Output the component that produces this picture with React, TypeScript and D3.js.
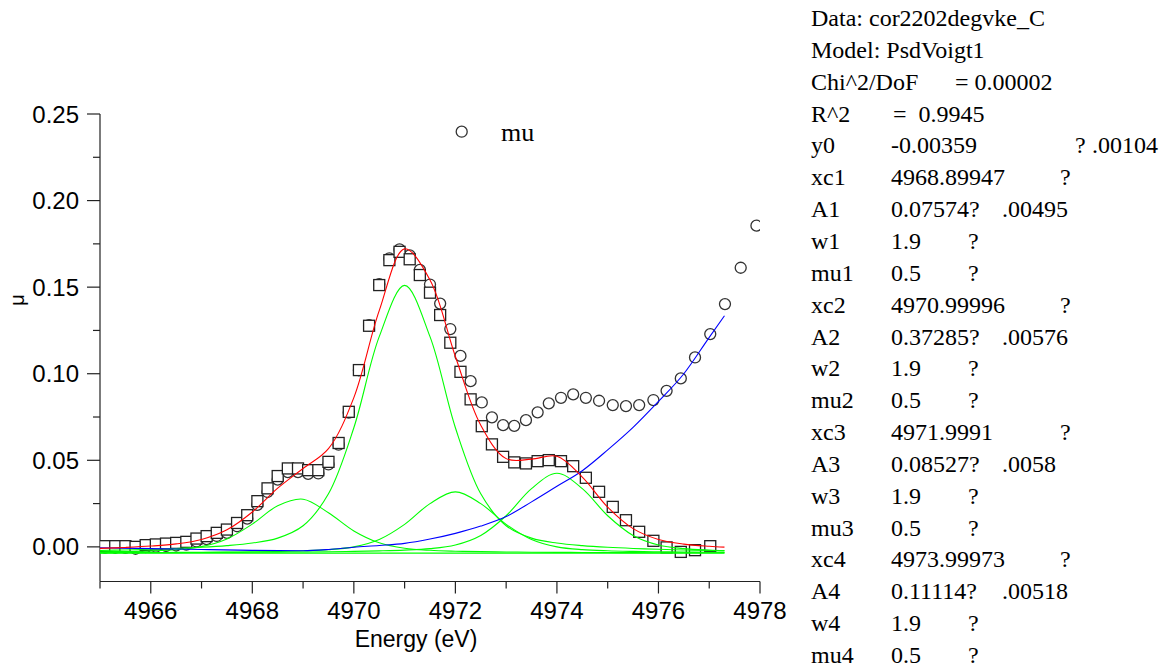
import React from 'react';
import * as d3 from 'd3';

// ---------- data ----------
const fitX = [4965, 4965.5, 4966, 4966.5, 4967, 4967.5, 4968, 4968.5, 4969, 4969.5, 4970, 4970.5, 4971, 4971.5, 4972, 4972.5, 4973, 4973.5, 4974, 4974.5, 4975, 4975.5, 4976, 4976.5, 4977, 4977.3];
const peak1 = [-0.00288, -0.00267, -0.00233, -0.00165, 0.00012, 0.00457, 0.01315, 0.02375, 0.02754, 0.01968, 0.00922, 0.00234, -0.0008, -0.00199, -0.00249, -0.00276, -0.00294, -0.00307, -0.00316, -0.00324, -0.00329, -0.00333, -0.00337, -0.0034, -0.00342, -0.00343];
const peak2 = [-0.00206, -0.00178, -0.00141, -0.00092, -0.00025, 0.00071, 0.0022, 0.00505, 0.01218, 0.03067, 0.06881, 0.1214, 0.15105, 0.1214, 0.06881, 0.03067, 0.01218, 0.00505, 0.0022, 0.00071, -0.00025, -0.00092, -0.00141, -0.00178, -0.00206, -0.0022];
const peak3 = [-0.00333, -0.00329, -0.00324, -0.00318, -0.00309, -0.00298, -0.00283, -0.00261, -0.00227, -0.00161, 0.00002, 0.00425, 0.01297, 0.02499, 0.03178, 0.02499, 0.01297, 0.00425, 0.00002, -0.00161, -0.00227, -0.00261, -0.00283, -0.00298, -0.00309, -0.00315];
const peak4 = [-0.00338, -0.00336, -0.00333, -0.0033, -0.00325, -0.0032, -0.00313, -0.00305, -0.00294, -0.0028, -0.0026, -0.00231, -0.00187, -0.00102, 0.00111, 0.00662, 0.01799, 0.03367, 0.04251, 0.03367, 0.01799, 0.00662, 0.00111, -0.00102, -0.00187, -0.00216];
const fitSum = [-0.00089, -0.00033, 0.00046, 0.00173, 0.00429, 0.00986, 0.02016, 0.03391, 0.04528, 0.05671, 0.08622, 0.13644, 0.17212, 0.15416, 0.10997, 0.07029, 0.05096, 0.05066, 0.05232, 0.04029, 0.02295, 0.01053, 0.00427, 0.0016, 0.00033, -0.00017];
const baseY0 = -0.00359;

const bgX = [4965, 4966, 4967, 4968, 4969, 4969.5, 4970, 4970.5, 4971, 4971.5, 4972, 4972.5, 4973, 4973.5, 4974, 4974.5, 4975, 4975.5, 4976, 4976.5, 4977, 4977.3];
const bgY = [-0.0005, -0.001, -0.0015, -0.002, -0.0022, -0.0015, -0.0002, 0.0008, 0.002, 0.0045, 0.0078, 0.012, 0.0175, 0.026, 0.035, 0.044, 0.056, 0.069, 0.084, 0.1, 0.121, 0.1335];

const sqX = [4965.1, 4965.3, 4965.5, 4965.7, 4965.9, 4966.1, 4966.3, 4966.5, 4966.7, 4966.9, 4967.1, 4967.3, 4967.5, 4967.7, 4967.9, 4968.1, 4968.3, 4968.5, 4968.7, 4968.9, 4969.1, 4969.3, 4969.5, 4969.7, 4969.9, 4970.1, 4970.3, 4970.5, 4970.7, 4970.9, 4971.1, 4971.3, 4971.5, 4971.7, 4971.9, 4972.1, 4972.3, 4972.52, 4972.72, 4972.94, 4973.16, 4973.39, 4973.62, 4973.84, 4974.08, 4974.32, 4974.57, 4974.83, 4975.1, 4975.36, 4975.62, 4975.9, 4976.16, 4976.44, 4976.72, 4977.02];
const sqY = [0.0004, 0.0004, 0.0004, 0.0, 0.001, 0.0014, 0.0019, 0.0023, 0.0029, 0.0048, 0.0062, 0.0081, 0.01, 0.0138, 0.0183, 0.0264, 0.0338, 0.0409, 0.0453, 0.0453, 0.0443, 0.0443, 0.0491, 0.06, 0.078, 0.1021, 0.1277, 0.1512, 0.1656, 0.1704, 0.1661, 0.157, 0.1468, 0.1339, 0.1179, 0.1011, 0.0852, 0.0697, 0.0592, 0.052, 0.0488, 0.0482, 0.0495, 0.0501, 0.0495, 0.0466, 0.0399, 0.0318, 0.0231, 0.0154, 0.0087, 0.0035, -0.0003, -0.0029, -0.0019, 0.0004];

const muX = [4965.1, 4965.3, 4965.5, 4965.7, 4965.9, 4966.1, 4966.3, 4966.5, 4966.7, 4966.9, 4967.1, 4967.3, 4967.5, 4967.7, 4967.9, 4968.1, 4968.3, 4968.5, 4968.7, 4968.9, 4969.1, 4969.3, 4969.5, 4969.7, 4969.9, 4970.1, 4970.3, 4970.5, 4970.7, 4970.9, 4971.1, 4971.3, 4971.5, 4971.7, 4971.9, 4972.1, 4972.3, 4972.52, 4972.72, 4972.94, 4973.16, 4973.39, 4973.62, 4973.84, 4974.08, 4974.32, 4974.57, 4974.83, 4975.1, 4975.36, 4975.62, 4975.9, 4976.16, 4976.44, 4976.72, 4977.02, 4977.31, 4977.62, 4977.93];
const muY = [-0.0004, -0.0005, -0.0006, -0.0011, -0.0002, 0.0001, 0.0005, 0.0008, 0.0013, 0.0031, 0.0045, 0.0063, 0.0081, 0.0119, 0.0163, 0.0243, 0.0317, 0.0388, 0.0432, 0.0432, 0.0422, 0.0424, 0.0476, 0.059, 0.0775, 0.102, 0.128, 0.1518, 0.1666, 0.1718, 0.1683, 0.16, 0.1515, 0.1405, 0.1258, 0.1103, 0.0957, 0.0834, 0.0748, 0.0703, 0.0699, 0.0732, 0.0777, 0.0829, 0.0861, 0.0881, 0.0861, 0.0844, 0.0819, 0.0813, 0.0819, 0.0848, 0.0901, 0.0973, 0.1094, 0.1229, 0.1402, 0.1612, 0.1855];

const xMajor = [4966, 4968, 4970, 4972, 4974, 4976, 4978];
const xMinor = [4965, 4967, 4969, 4971, 4973, 4975, 4977];
const yMajor = [0, 0.05, 0.1, 0.15, 0.2, 0.25];
const yMinor = [0.025, 0.075, 0.125, 0.175, 0.225];

const legendLabel = 'mu';
const xTitle = 'Energy (eV)';
const yTitle = 'μ';

// parameter report: label, value, extra parts
const reportRows: string[][] = [
  ['Data: cor2202degvke_C'],
  ['Model: PsdVoigt1'],
  ['Chi^2/DoF', '= 0.00002'],
  ['R^2', '=  0.9945'],
  ['y0', '-0.00359', '?', '.00104'],
  ['xc1', '4968.89947', '?'],
  ['A1', '0.07574?', '.00495'],
  ['w1', '1.9', '?'],
  ['mu1', '0.5', '?'],
  ['xc2', '4970.99996', '?'],
  ['A2', '0.37285?', '.00576'],
  ['w2', '1.9', '?'],
  ['mu2', '0.5', '?'],
  ['xc3', '4971.9991', '?'],
  ['A3', '0.08527?', '.0058'],
  ['w3', '1.9', '?'],
  ['mu3', '0.5', '?'],
  ['xc4', '4973.99973', '?'],
  ['A4', '0.11114?', '.00518'],
  ['w4', '1.9', '?'],
  ['mu4', '0.5', '?'],
];

export default function App() {
  const W = 1167, H = 670;
  const x = d3.scaleLinear().domain([4965, 4978]).range([100, 760]);
  const y = d3.scaleLinear().domain([-0.02, 0.25]).range([581.5, 114]);
  const [x0, x1] = x.range();
  const [yb, yt] = y.range();

  const line = (xs: number[], ys: number[], curve: any = d3.curveCatmullRom) =>
    d3.line<number>().x((_, i) => x(xs[i])).y((v) => y(v)).curve(curve)(ys) || '';

  const peaks = [peak1, peak2, peak3, peak4];
  const green = '#00ff00';

  const sans = "'Liberation Sans', Arial, sans-serif";
  const serif = "'Liberation Serif', 'Times New Roman', serif";

  // report layout
  const repX0 = 811, repX1 = 891;
  const rowBase = (i: number) => 26 + i * 31.85;
  const partX = (row: string[], j: number) => {
    const key = row[0];
    if (j === 0) return repX0;
    if (key === 'Chi^2/DoF') return 955;
    if (key === 'R^2') return 893;
    if (j === 1) return repX1;
    if (key === 'y0') return j === 2 ? 1075 : 1092;
    if (key.startsWith('xc')) return 1060;
    if (key.startsWith('A')) return 1002;
    return 968;
  };

  return (
    <svg width={W} height={H} style={{ position: 'absolute', left: 0, top: 0, background: '#fff' }}
      xmlns="http://www.w3.org/2000/svg">
      <rect x={0} y={0} width={W} height={H} fill="#fff" />
      <defs>
        <clipPath id="plotClip">
          <rect x={x0} y={yt - 10} width={x1 - x0} height={yb - yt + 10} />
        </clipPath>
      </defs>

      {/* axes */}
      <g stroke="#222" strokeWidth={1.2} fill="none">
        <line x1={x0} y1={yt} x2={x0} y2={yb} />
        <line x1={x0} y1={yb} x2={x1} y2={yb} />
        {yMajor.map((v) => <line key={'ym' + v} x1={x0 - 13} x2={x0} y1={y(v)} y2={y(v)} />)}
        {yMinor.map((v) => <line key={'yn' + v} x1={x0 - 7} x2={x0} y1={y(v)} y2={y(v)} />)}
        {xMajor.map((v) => <line key={'xm' + v} x1={x(v)} x2={x(v)} y1={yb} y2={yb + 12} />)}
        {xMinor.map((v) => <line key={'xn' + v} x1={x(v)} x2={x(v)} y1={yb} y2={yb + 7} />)}
      </g>
      <g fontFamily={sans} fontSize={24} fill="#000">
        {yMajor.map((v) => (
          <text key={'yl' + v} x={79} y={y(v) + 8.5} textAnchor="end">{d3.format('.2f')(v)}</text>
        ))}
        {xMajor.map((v) => (
          <text key={'xl' + v} x={x(v)} y={619} textAnchor="middle">{v}</text>
        ))}
        <text x={416} y={647} fontSize={23} textAnchor="middle">{xTitle}</text>
        <text x={0} y={0} fontSize={20} textAnchor="middle" transform="translate(24,300) rotate(-90)">{yTitle}</text>
      </g>

      {/* data markers */}
      <g clipPath="url(#plotClip)">
        {muX.map((v, i) => (
          <circle key={'c' + i} cx={x(v)} cy={y(muY[i])} r={5.5} fill="#fff" stroke="#333" strokeWidth={1.3} />
        ))}
        {sqX.map((v, i) => (
          <rect key={'s' + i} x={x(v) - 5.5} y={y(sqY[i]) - 5.5} width={11} height={11} fill="#fff" stroke="#222" strokeWidth={1.3} />
        ))}
      </g>

      {/* fit curves */}
      <g fill="none" strokeWidth={1.1}>
        <line x1={x(fitX[0])} x2={x(fitX[fitX.length - 1])} y1={y(baseY0)} y2={y(baseY0)} stroke={green} />
        {peaks.map((p, k) => <path key={'p' + k} d={line(fitX, p)} stroke={green} />)}
        <path d={line(bgX, bgY, d3.curveMonotoneX)} stroke="#0000ff" />
        <path d={line(fitX, fitSum)} stroke="#ff0000" />
      </g>

      {/* legend */}
      <circle cx={461.7} cy={131.7} r={5.5} fill="#fff" stroke="#333" strokeWidth={1.3} />
      <text x={501} y={140.5} fontFamily={serif} fontSize={26} fill="#000">{legendLabel}</text>

      {/* report */}
      <g fontFamily={serif} fontSize={24} fill="#000">
        {reportRows.map((row, i) => (
          <text key={'r' + i} y={rowBase(i)} xmlSpace="preserve">
            {row.map((part, j) => (
              <tspan key={j} x={partX(row, j)} style={{ whiteSpace: 'pre' }}>{part}</tspan>
            ))}
          </text>
        ))}
      </g>
    </svg>
  );
}
